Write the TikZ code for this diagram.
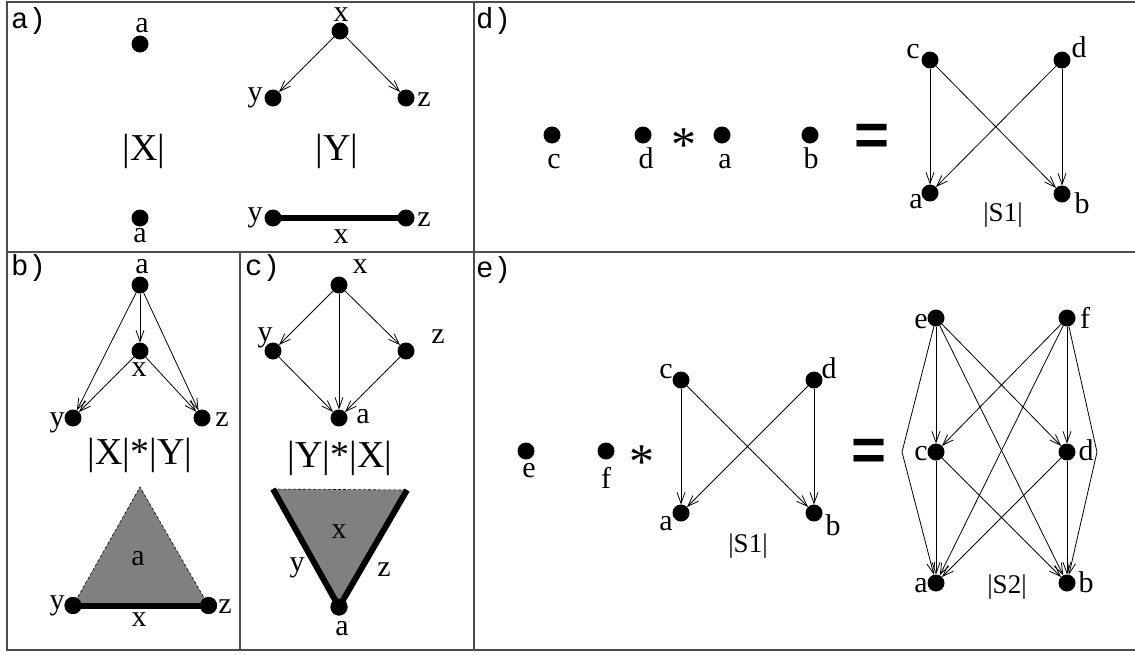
\documentclass[tikz,border=0pt]{standalone}
\usepackage{fontspec}
\setmainfont{Liberation Serif}
\setsansfont{Liberation Sans}
\setmonofont{Liberation Mono}
\usetikzlibrary{arrows.meta}
\begin{document}
\begin{tikzpicture}[x=1pt,y=-1pt,
  dot/.style={circle,fill=black,minimum size=17pt,inner sep=0pt,outer sep=0pt},
  lab/.style={font=\fontsize{30}{30}\selectfont,inner sep=0pt,anchor=base},
  bigl/.style={font=\fontsize{38}{38}\selectfont,inner sep=0pt,anchor=base},
  sl/.style={font=\fontsize{27}{27}\selectfont,inner sep=0pt,anchor=base},
  tag/.style={font=\ttfamily\fontsize{29}{29}\selectfont,inner sep=0pt,anchor=base west},
  arr/.style={line width=0.8pt,-{Straight Barb[length=11pt,width=8pt,line width=0.8pt]}},
  frame/.style={line width=2pt,draw=black!70},
  star/.style={font=\fontsize{50}{50}\selectfont,inner sep=0pt,anchor=base},
  eq/.style={font=\sffamily\bfseries\fontsize{60}{60}\selectfont,inner sep=0pt,anchor=base},
  thickedge/.style={line width=6pt},
  dashedge/.style={line width=0.6pt,dash pattern=on 3pt off 2pt},
  shade/.style={fill=black!50}
]
\useasboundingbox (0,0) rectangle (1135,654);
\fill[white] (0,0) rectangle (1135,654);

% frame
\coordinate (f1) at (7,2); \coordinate (f2) at (1135,2);
\coordinate (f3) at (7,650); \coordinate (f4) at (1135,650);
\coordinate (m1) at (473.5,2); \coordinate (m2) at (473.5,650);
\coordinate (h1) at (7,251.5); \coordinate (h2) at (1135,251.5);
\coordinate (v1) at (240,251.5); \coordinate (v2) at (240,650);
\draw[frame] (f2) -- (f1) -- (f3) -- (f4);
\draw[frame] (m1) -- (m2);
\draw[frame] (h1) -- (h2);
\draw[frame] (v1) -- (v2);

% tags
\node[tag] (ta) at (11,28) {a)};
\node[tag] (tb) at (11,275) {b)};
\node[tag] (tc) at (245,275) {c)};
\node[tag] (td) at (476,28) {d)};
\node[tag] (te) at (476,277) {e)};

% ---- panel a
\node[dot] (aXa) at (140,44) {};
\node[lab] (laXa) at (142,32) {a};
\node[bigl] (lX) at (144,160) {|X|};
\node[dot] (aXb) at (140,218) {};
\node[lab] (laXb) at (140,242) {a};

\node[dot] (aYx) at (340,31) {};
\node[dot] (aYy) at (273,98) {};
\node[dot] (aYz) at (406,98) {};
\draw[arr] (aYx) -- (aYy);
\draw[arr] (aYx) -- (aYz);
\node[lab] (laYx) at (341,21) {x};
\node[lab] (laYy) at (255,101) {y};
\node[lab] (laYz) at (424,106) {z};
\node[bigl] (lY) at (337,160) {|Y|};

\node[dot] (aBy) at (273,218) {};
\node[dot] (aBz) at (406,218) {};
\draw[thickedge] (aBy.center) -- (aBz.center);
\node[lab] (laBy) at (255,221) {y};
\node[lab] (laBz) at (424,226) {z};
\node[lab] (laBx) at (341,243) {x};

% ---- panel b
\node[dot] (ba) at (140,285) {};
\node[dot] (bx) at (140,351) {};
\node[dot] (by) at (73,418) {};
\node[dot] (bz) at (202,418) {};
\draw[arr] (ba) -- (bx);
\draw[arr] (ba) -- (by);
\draw[arr] (ba) -- (bz);
\draw[arr] (bx) -- (by);
\draw[arr] (bx) -- (bz);
\node[lab] (lba) at (142,273) {a};
\node[lab] (lbx) at (139,376) {x};
\node[lab] (lby) at (57,426) {y};
\node[lab] (lbz) at (222,426) {z};
\node[bigl] (lXY) at (140,464) {|X|*|Y|};

\coordinate (tapex) at (140,487);
\node[dot] (tby) at (73,605.5) {};
\node[dot] (tbz) at (208.5,605.5) {};
\fill[shade] (tapex) -- (tby.center) -- (tbz.center) -- cycle;
\draw[dashedge] (tby.center) -- (tapex) -- (tbz.center);
\draw[thickedge] (tby.center) -- (tbz.center);
\node[dot] at (tby) {};
\node[dot] at (tbz) {};
\node[lab] (ltba) at (138,565) {a};
\node[lab] (ltby) at (57,609) {y};
\node[lab] (ltbz) at (225,613) {z};
\node[lab] (ltbx) at (139,626) {x};

% ---- panel c
\node[dot] (cx) at (339,285) {};
\node[dot] (cy) at (273,351) {};
\node[dot] (cz) at (406,351) {};
\node[dot] (ca) at (339,418) {};
\draw[arr] (cx) -- (cy);
\draw[arr] (cx) -- (cz);
\draw[arr] (cx) -- (ca);
\draw[arr] (cy) -- (ca);
\draw[arr] (cz) -- (ca);
\node[lab] (lcx) at (360,273) {x};
\node[lab] (lcy) at (265,341) {y};
\node[lab] (lcz) at (438,343) {z};
\node[lab] (lca) at (363,423) {a};
\node[bigl] (lYX) at (340,467) {|Y|*|X|};

\coordinate (tcl) at (273,489);
\coordinate (tcr) at (407,490);
\node[dot] (tca) at (339,607) {};
\fill[shade] (tcl) -- (tcr) -- (tca.center) -- cycle;
\draw[dashedge] (tcl) -- (tcr);
\draw[thickedge] (tcl) -- (tca.center) -- (tcr);
\node[dot] at (tca) {};
\node[lab] (ltcx) at (339,538) {x};
\node[lab] (ltcy) at (297,571) {y};
\node[lab] (ltcz) at (384,576) {z};
\node[lab] (ltca) at (342,635) {a};

% ---- panel d
\node[dot] (dc) at (552,135) {};
\node[dot] (dd) at (643,135) {};
\node[dot] (da) at (722,135) {};
\node[dot] (db) at (810,135) {};
\node[lab] (ldc) at (554,168) {c};
\node[lab] (ldd) at (646,168) {d};
\node[lab] (lda) at (725,168) {a};
\node[lab] (ldb) at (811,168) {b};
\node[star] (dstar) at (684,161.5) {*};
\node[eq] (deq) at (872,155) {=};

\node[dot] (sc) at (930,60) {};
\node[dot] (sd) at (1062,60) {};
\node[dot] (sa) at (930,193) {};
\node[dot] (sb) at (1062,194) {};
\draw[arr] (sc) -- (sa);
\draw[arr] (sc) -- (sb);
\draw[arr] (sd) -- (sa);
\draw[arr] (sd) -- (sb);
\node[lab] (lsc) at (913,58) {c};
\node[lab] (lsd) at (1079,57) {d};
\node[lab] (lsa) at (916,208) {a};
\node[lab] (lsb) at (1082,213) {b};
\node[sl] (lS1d) at (1003,221) {|S1|};

% ---- panel e
\node[dot] (ee) at (526,451) {};
\node[dot] (ef) at (606,451) {};
\node[lab] (lee) at (529,477) {e};
\node[lab] (lef) at (606,488) {f};
\node[star] (estar) at (642,478.5) {*};

\node[dot] (ec) at (681,380) {};
\node[dot] (ed) at (814,380) {};
\node[dot] (ea) at (681,513) {};
\node[dot] (eb) at (814,513) {};
\draw[arr] (ec) -- (ea);
\draw[arr] (ec) -- (eb);
\draw[arr] (ed) -- (ea);
\draw[arr] (ed) -- (eb);
\node[lab] (lec) at (666,378) {c};
\node[lab] (led) at (829,378) {d};
\node[lab] (lea) at (666,530) {a};
\node[lab] (leb) at (833,535) {b};
\node[sl] (lS1e) at (748,552) {|S1|};

\node[eq] (eeq) at (869,470.5) {=};

\node[dot] (te2) at (936,318) {};
\node[dot] (tf2) at (1067,318) {};
\node[dot] (tc2) at (936,452) {};
\node[dot] (td2) at (1067,452) {};
\node[dot] (ta2) at (936,583) {};
\node[dot] (tb2) at (1067,583) {};
\coordinate (cl) at (902,452);
\coordinate (cr) at (1097,452);
\draw[arr] (te2) -- (tc2);
\draw[arr] (te2) -- (td2);
\draw[arr] (te2) -- (tb2);
\draw[arr] (te2) -- (cl) -- (ta2);
\draw[arr] (tf2) -- (td2);
\draw[arr] (tf2) -- (tc2);
\draw[arr] (tf2) -- (ta2);
\draw[arr] (tf2) -- (cr) -- (tb2);
\draw[arr] (tc2) -- (ta2);
\draw[arr] (tc2) -- (tb2);
\draw[arr] (td2) -- (ta2);
\draw[arr] (td2) -- (tb2);
\node[lab] (lte2) at (921,328) {e};
\node[lab] (ltf2) at (1085,328) {f};
\node[lab] (ltc2) at (921,460) {c};
\node[lab] (ltd2) at (1086,460) {d};
\node[lab] (lta2) at (921,592) {a};
\node[lab] (ltb2) at (1086,592) {b};
\node[sl] (lS2) at (1007,593) {|S2|};
\end{tikzpicture}
\end{document}
